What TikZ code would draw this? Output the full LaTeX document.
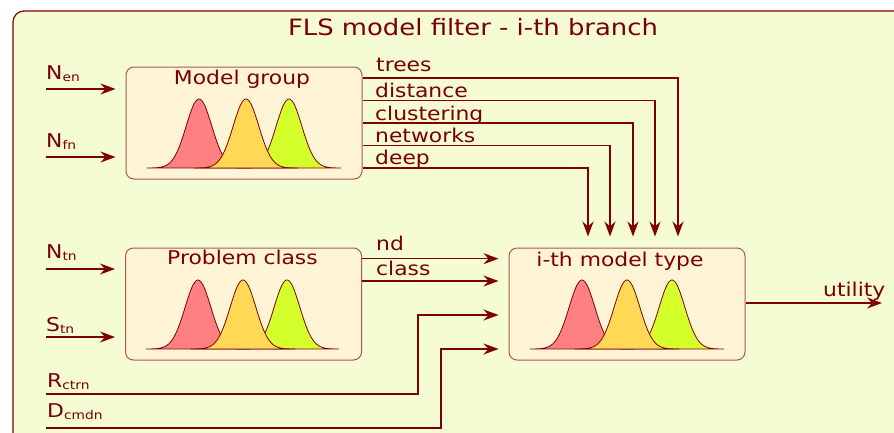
\documentclass[tikz,border=0pt]{standalone}
\usepackage{fontspec}
\setmainfont{DejaVu Sans}[FakeStretch=1.15]
\usetikzlibrary{arrows.meta}
\definecolor{bgc}{HTML}{F5FBD3}
\definecolor{boxfill}{HTML}{FFF5D6}
\definecolor{boxline}{HTML}{A85A50}
\definecolor{txt}{HTML}{7A0000}
\definecolor{linec}{HTML}{800000}
\definecolor{bred}{HTML}{FF8080}
\definecolor{byel}{HTML}{FFD955}
\definecolor{bgrn}{HTML}{D4FF2A}
\newcommand\sbs[1]{\raisebox{-2.5pt}{\fontsize{12}{12}\selectfont #1}}
\newcommand\drawbell[4]{% mu, base, height, colour
  \pgfmathsetmacro\bst{#1-52}\pgfmathsetmacro\ben{#1+52}%
  \filldraw[fill=#4, draw=linec, line width=0.8pt]
    plot[domain=\bst:\ben, samples=80, smooth] (\x, {#2-#3*exp(-((\x-#1)^2)/330)}) -- cycle;}
\begin{document}
\begin{tikzpicture}[x=1pt,y=-1pt,
  lbl/.style={text=txt, font=\fontsize{19}{22}\selectfont, inner sep=0pt},
  ttl/.style={text=txt, font=\fontsize{22.5}{26}\selectfont, inner sep=0pt},
  box/.style={draw=boxline, fill=boxfill, line width=1pt, rounded corners=8pt, minimum width=236pt, minimum height=112pt, inner sep=0pt},
  conn/.style={draw=linec, line width=1.1pt, -{Stealth[length=15pt,width=11pt,inset=5pt]}, shorten >=10pt},
  wire/.style={draw=linec, line width=1.1pt}]
\useasboundingbox (0,0) rectangle (894,432);
\fill[white] (0,0) rectangle (894,432);
\draw[draw=linec, fill=bgc, line width=1.2pt, rounded corners=11pt] (13,11) rectangle (910,450);
\node[ttl, anchor=base] (title) at (473,35) {FLS model filter - i-th branch};

% boxes
\node[box] (mg) at (244,123) {};
\node[box] (pc) at (243.5,304) {};
\node[box] (mt) at (627,304) {};
\node[lbl, anchor=base] (mgt) at (242,84) {Model group};
\node[lbl, anchor=base] (pct) at (242.5,264) {Problem class};
\node[lbl, anchor=base] (mtt) at (620,266) {i-th model type};

% bells
\drawbell{199}{168}{69}{bred}\drawbell{289}{168}{69}{bgrn}\drawbell{246}{168}{69}{byel}
\drawbell{198}{349}{69}{bred}\drawbell{287}{349}{69}{bgrn}\drawbell{243}{349}{69}{byel}
\drawbell{582}{349}{69}{bred}\drawbell{672}{349}{69}{bgrn}\drawbell{627}{349}{69}{byel}

% inputs to model group and problem class
\coordinate (ne) at (46,89);
\coordinate (nf) at (46,157);
\coordinate (nt) at (46,269);
\coordinate (st) at (46,337);
\node[lbl, anchor=base west] (nel) at (46,79) {N\sbs{en}};
\node[lbl, anchor=base west] (nfl) at (46,147) {N\sbs{fn}};
\node[lbl, anchor=base west] (ntl) at (46,258) {N\sbs{tn}};
\node[lbl, anchor=base west] (stl) at (46,331) {S\sbs{tn}};
\draw[conn] (ne) -- (mg.west |- ne);
\draw[conn] (nf) -- (mg.west |- nf);
\draw[conn] (nt) -- (pc.west |- nt);
\draw[conn] (st) -- (pc.west |- st);

% model group outputs
\coordinate (k1) at (678,78);
\coordinate (k2) at (655,100.5);
\coordinate (k3) at (633,123);
\coordinate (k4) at (610,145.5);
\coordinate (k5) at (588,168);
\draw[conn, shorten >=11pt] (mg.east |- k1) -| (mt.north -| k1);
\draw[conn, shorten >=11pt] (mg.east |- k2) -| (mt.north -| k2);
\draw[conn, shorten >=11pt] (mg.east |- k3) -| (mt.north -| k3);
\draw[conn, shorten >=11pt] (mg.east |- k4) -| (mt.north -| k4);
\draw[conn, shorten >=11pt] (mg.east |- k5) -| (mt.north -| k5);
\node[lbl, anchor=base west] (l1) at (376,71) {trees};
\node[lbl, anchor=base west] (l2) at (375,97) {distance};
\node[lbl, anchor=base west] (l3) at (375,120) {clustering};
\node[lbl, anchor=base west] (l4) at (375,142) {networks};
\node[lbl, anchor=base west] (l5) at (375,164) {deep};

% problem class outputs
\coordinate (p1) at (400,258.7);
\coordinate (p2) at (400,281);
\draw[conn] (pc.east |- p1) -- (mt.west |- p1);
\draw[conn] (pc.east |- p2) -- (mt.west |- p2);
\node[lbl, anchor=base west] (nd) at (376,250) {nd};
\node[lbl, anchor=base west] (cl) at (376,275) {class};

% R and D inputs
\coordinate (r0) at (46,394);
\coordinate (rk) at (418,315);
\coordinate (d0) at (46,428);
\coordinate (dk) at (441,349);
\node[lbl, anchor=base west] (rl) at (47,387) {R\sbs{ctrn}};
\node[lbl, anchor=base west] (dl) at (47,417) {D\sbs{cmdn}};
\draw[conn] (r0) -| (rk) -- (mt.west |- rk);
\draw[conn] (d0) -| (dk) -- (mt.west |- dk);

% utility output
\coordinate (ut) at (882,303);
\draw[conn, shorten >=0pt] (mt.east |- ut) -- (ut);
\node[lbl, anchor=base west] (utl) at (823,296.7) {utility};
\end{tikzpicture}
\end{document}
